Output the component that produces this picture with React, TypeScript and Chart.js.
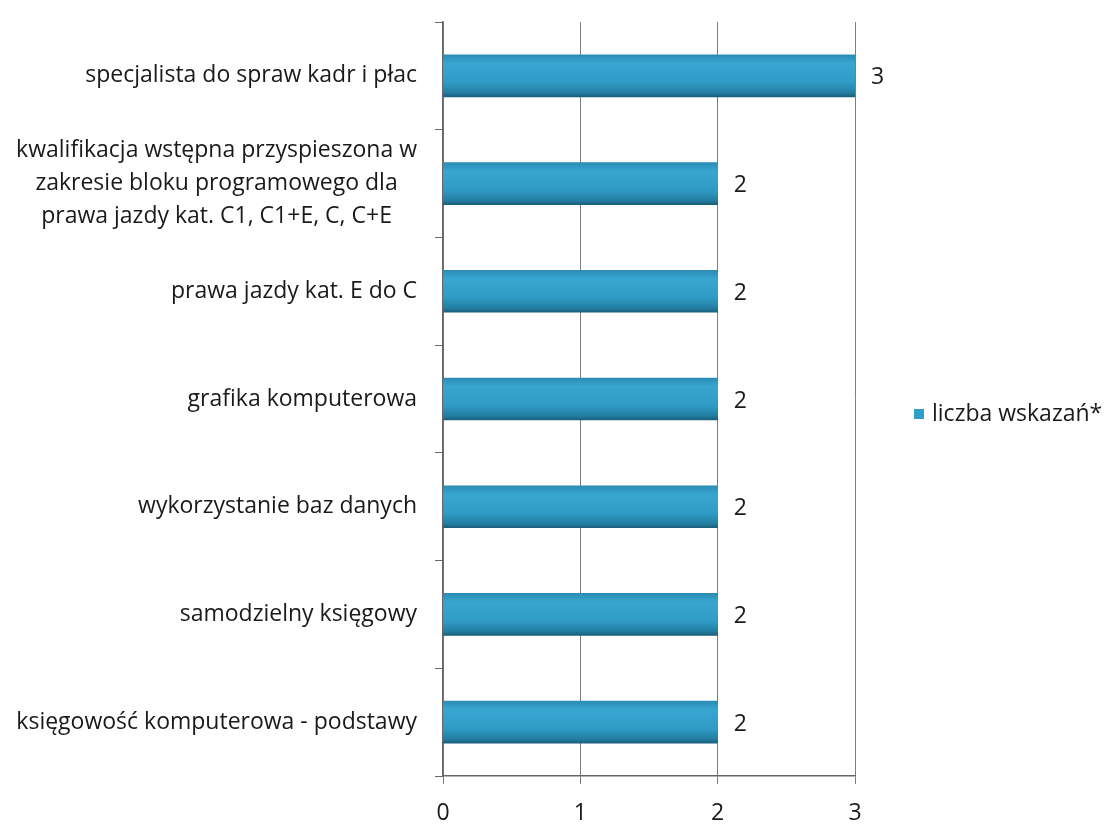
import React, { useEffect, useRef } from "react";
import { Chart, registerables } from "chart.js";

Chart.register(...registerables);

const categories: (string | string[])[] = [
  "specjalista do spraw kadr i płac",
  ["kwalifikacja wstępna przyspieszona w", "zakresie bloku programowego dla", "prawa jazdy kat. C1, C1+E, C, C+E"],
  "prawa jazdy kat. E do C",
  "grafika komputerowa",
  "wykorzystanie baz danych",
  "samodzielny księgowy",
  "księgowość komputerowa - podstawy",
];
const values = [3, 2, 2, 2, 2, 2, 2];
const seriesName = "liczba wskazań*";
const xTicks = [0, 1, 2, 3];

const FONT = "'Open Sans', 'Noto Sans', sans-serif";
const FS = 23;

const labelsPlugin = {
  id: "customLabels",
  afterDraw(chart: any) {
    const ctx = chart.ctx;
    const yScale = chart.scales.y;
    ctx.save();
    ctx.fillStyle = "#1a1a1a";
    ctx.font = `${FS}px ${FONT}`;
    ctx.textBaseline = "middle";
    const rightX = chart.chartArea.left - 26;
    categories.forEach((lab, i) => {
      const y = yScale.getPixelForValue(i);
      if (Array.isArray(lab)) {
        const lh = 33;
        const maxW = Math.max(...lab.map((l) => ctx.measureText(l).width));
        const cx = rightX - maxW / 2;
        ctx.textAlign = "center";
        lab.forEach((l, j) => {
          ctx.fillText(l, cx, y + (j - (lab.length - 1) / 2) * lh);
        });
      } else {
        ctx.textAlign = "right";
        ctx.fillText(lab, rightX, y);
      }
    });
    // value labels
    const meta = chart.getDatasetMeta(0);
    ctx.textAlign = "left";
    meta.data.forEach((el: any, i: number) => {
      ctx.fillText(String(values[i]), el.x + 16, el.y + 2);
    });
    // legend
    const lx = 914;
    const ly = 414;
    ctx.fillStyle = "#2f9dc8";
    ctx.fillRect(lx, ly - 5, 10, 10);
    ctx.fillStyle = "#1a1a1a";
    ctx.fillText(seriesName, lx + 18, ly);
    ctx.restore();
  },
};

export default function App() {
  const ref = useRef<HTMLCanvasElement | null>(null);
  useEffect(() => {
    if (!ref.current) return;
    const chart = new Chart(ref.current, {
      type: "bar",
      data: {
        labels: categories.map((c) => (Array.isArray(c) ? c.join(" ") : c)),
        datasets: [
          {
            label: seriesName,
            data: values,
            barThickness: 42,
            borderWidth: 0,
            backgroundColor: (c: any) => {
              const ch = c.chart;
              const ys = ch.scales && ch.scales.y;
              if (!ys || c.dataIndex == null) return "#2f9dc8";
              const y = ys.getPixelForValue(c.dataIndex);
              if (!isFinite(y)) return "#2f9dc8";
              const g = ch.ctx.createLinearGradient(0, y - 21, 0, y + 21);
              g.addColorStop(0, "#2a8cb4");
              g.addColorStop(0.2, "#38a6d0");
              g.addColorStop(0.65, "#2f9cc6");
              g.addColorStop(0.9, "#237ea3");
              g.addColorStop(1, "#1a5f7c");
              return g;
            },
          },
        ],
      },
      options: {
        indexAxis: "y",
        animation: false,
        responsive: false,
        maintainAspectRatio: false,
        layout: { padding: { top: 22, right: 253, bottom: 0, left: 0 } },
        plugins: {
          legend: { display: false },
          tooltip: { enabled: false },
        },
        scales: {
          x: {
            min: 0,
            max: 3,
            afterBuildTicks: (s: any) => {
              s.ticks = xTicks.map((v) => ({ value: v }));
            },
            afterFit: (s: any) => {
              s.height = 50;
            },
            grid: {
              color: "#7d7d7d",
              lineWidth: 1,
              tickLength: 8,
              drawTicks: true,
            },
            border: { color: "#666", width: 1.5 },
            ticks: {
              color: "#1a1a1a",
              font: { family: FONT, size: FS },
              padding: 16,
            },
          },
          y: {
            afterFit: (s: any) => {
              s.width = 443;
            },
            grid: {
              offset: true,
              drawOnChartArea: false,
              drawTicks: true,
              tickLength: 8,
              color: "#666",
            },
            border: { color: "#666", width: 1.5 },
            ticks: { display: false },
          },
        },
      },
      plugins: [labelsPlugin],
    });
    chart.update();
    return () => chart.destroy();
  }, []);
  return (
    <div style={{ position: "fixed", left: 0, top: 0, width: 1108, height: 826, background: "#fff" }}>
      <canvas ref={ref} width={1108} height={826} style={{ width: 1108, height: 826 }} />
    </div>
  );
}
